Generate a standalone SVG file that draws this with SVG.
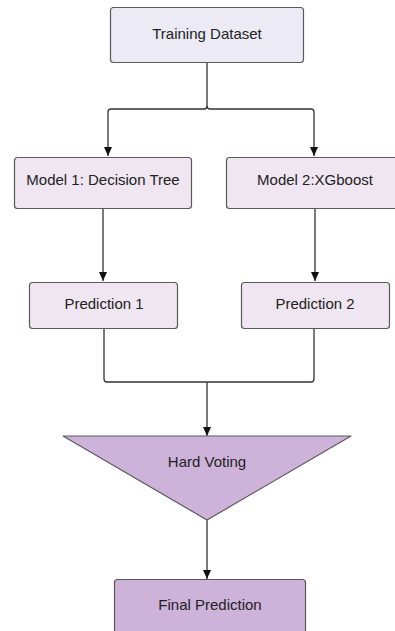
<svg xmlns="http://www.w3.org/2000/svg" width="395" height="631" viewBox="0 0 395 631">
<style>
.box{stroke:#5a5a5a;stroke-width:1.2}
.lav{fill:#ebeaf5}
.pink{fill:#efe6f1}
.purp{fill:#cdb3da}
.t{font-family:"Liberation Sans",Arial,sans-serif;font-size:15px;fill:#222;text-anchor:middle}
.c{fill:none;stroke:#333;stroke-width:1.3}
.a{marker-end:url(#ah)}
</style>
<defs>
<marker id="ah" markerUnits="userSpaceOnUse" markerWidth="9" markerHeight="8" refX="9" refY="4" orient="auto" viewBox="0 0 9 8">
<path d="M0,0 L9,4 L0,8 Z" fill="#111"/>
</marker>
</defs>
<rect width="395" height="631" fill="#fff"/>
<g id="connectors">
<path class="c a" d="M207,62 V106 Q207,109 204,109 H111 Q108,109 108,112 V156"/>
<path class="c a" d="M207,106 Q207,109 210,109 H311 Q314,109 314,112 V156"/>
<path class="c a" d="M103,208 V281"/>
<path class="c a" d="M315,208 V281"/>
<path class="c" d="M104,328 V379 Q104,382 107,382 H311 Q314,382 314,379 V328"/>
<path class="c a" d="M207,382 V436"/>
<path class="c a" d="M207,520 V579"/>
</g>
<g id="training">
<rect class="box lav" x="110.5" y="7.5" width="193" height="55" rx="3"/>
<text class="t" x="207" y="39">Training Dataset</text>
</g>
<g id="model1">
<rect class="box pink" x="14.5" y="157.5" width="177" height="51" rx="3"/>
<text class="t" x="103" y="185">Model 1: Decision Tree</text>
</g>
<g id="model2">
<rect class="box pink" x="226.5" y="157.5" width="175" height="51" rx="3"/>
<text class="t" x="315" y="185">Model 2:XGboost</text>
</g>
<g id="pred1">
<rect class="box pink" x="29.5" y="282.5" width="148" height="46" rx="3"/>
<text class="t" x="104" y="309">Prediction 1</text>
</g>
<g id="pred2">
<rect class="box pink" x="241.5" y="282.5" width="148" height="46" rx="3"/>
<text class="t" x="315" y="309">Prediction 2</text>
</g>
<g id="voting">
<path class="box purp" d="M63,436 H351 L207,520 Z" stroke-linejoin="round"/>
<text class="t" x="207" y="467">Hard Voting</text>
</g>
<g id="final">
<rect class="box purp" x="114.5" y="579.5" width="191" height="60" rx="3"/>
<text class="t" x="210" y="609.5">Final Prediction</text>
</g>
</svg>
